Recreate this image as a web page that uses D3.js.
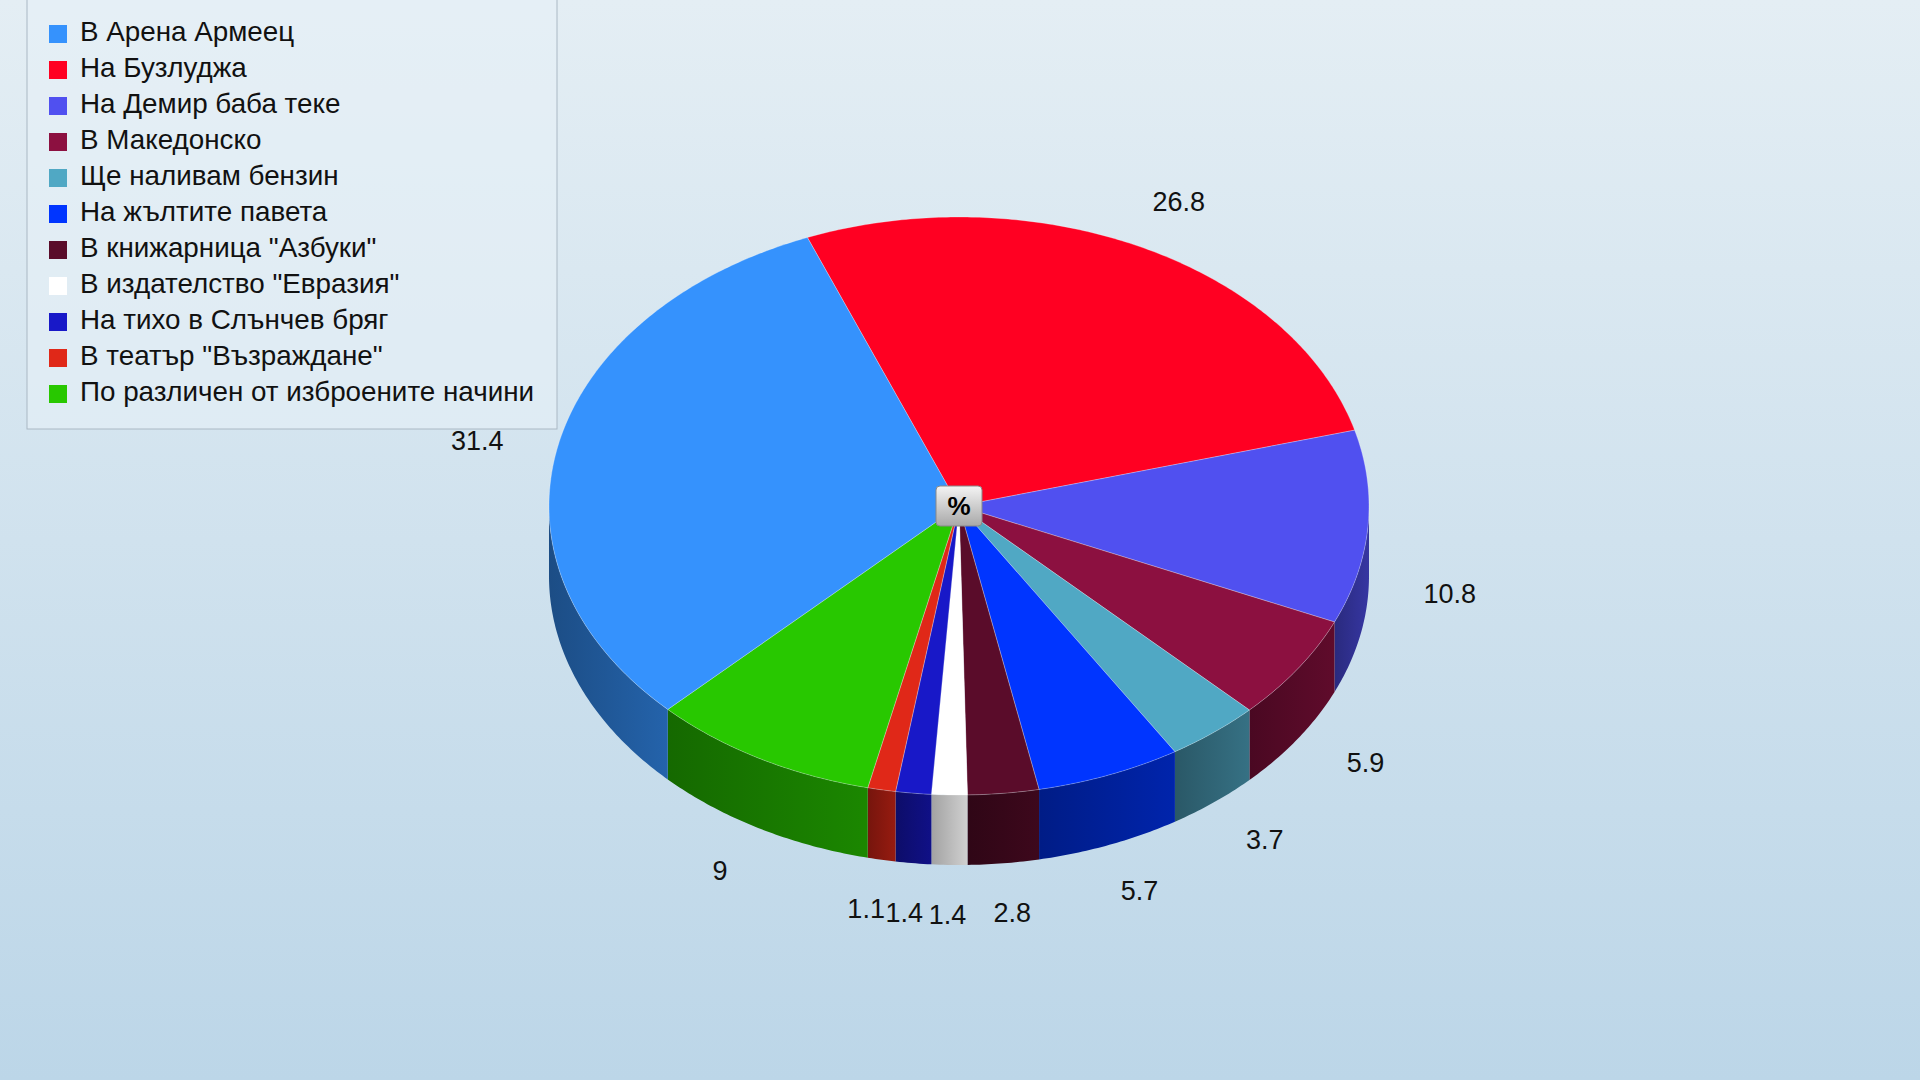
<!DOCTYPE html>
<html><head><meta charset="utf-8">
<script src="https://cdn.jsdelivr.net/npm/d3@7"></script>
<style>body{margin:0;overflow:hidden}</style>
</head><body>
<div id="chart"></div>
<script>
// данни
const categories = ["В Арена Армеец","На Бузлуджа","На Демир баба теке","В Македонско","Ще наливам бензин","На жълтите павета","В книжарница \"Азбуки\"","В издателство \"Евразия\"","На тихо в Слънчев бряг","В театър \"Възраждане\"","По различен от изброените начини"];
const values = [31.4,26.8,10.8,5.9,3.7,5.7,2.8,1.4,1.4,1.1,9];
const colors = ["#3592fd","#ff0022","#5050f0","#8c1040","#50a8c4","#0035ff","#5a0c2a","#ffffff","#1818c8","#e02818","#28c800"];
// ред по часовниковата стрелка, започвайки от "На Бузлуджа"
const drawOrder = [1,2,3,4,5,6,7,8,9,10,0];

const W = 1920, H = 1080;
const cx = 959, cy = 506, rx = 410, ry = 289, depth = 70;
const startDeg = -21.7;

const svg = d3.select("#chart").append("svg").attr("width", W).attr("height", H);
const defs = svg.append("defs");
const bg = defs.append("linearGradient").attr("id","bg").attr("x1",0).attr("y1",0).attr("x2",0).attr("y2",1);
bg.append("stop").attr("offset",0).attr("stop-color","#e4eef4");
bg.append("stop").attr("offset",1).attr("stop-color","#bcd6e8");
svg.append("rect").attr("width",W).attr("height",H).attr("fill","url(#bg)");

const toRad = d => d * Math.PI / 180;
const px = t => cx + rx * Math.sin(t);
const py = t => cy - ry * Math.cos(t);

const total = d3.sum(values);
const angle = d3.scaleLinear().domain([0, total]).range([toRad(startDeg), toRad(startDeg + 360)]);

let acc = 0;
const slices = drawOrder.map(i => {
  const s = { i, a0: angle(acc), a1: angle(acc + values[i]) };
  acc += values[i];
  return s;
});

function arcPts(a0, a1, dy) {
  const n = Math.max(2, Math.ceil((a1 - a0) / 0.01));
  return d3.range(n + 1).map(k => { const t = a0 + (a1 - a0) * k / n; return [px(t), py(t) + dy]; });
}

// странични стени
const sideG = svg.append("g");
slices.forEach(s => {
  [0, 2 * Math.PI, -2 * Math.PI].forEach(off => {
    const lo = Math.max(s.a0, Math.PI / 2 + off), hi = Math.min(s.a1, 3 * Math.PI / 2 + off);
    if (hi <= lo) return;
    const top = arcPts(lo, hi, 0), bot = arcPts(lo, hi, depth).reverse();
    const c = d3.color(colors[s.i]);
    const gid = "sg" + s.i + "_" + Math.round(off);
    const g = defs.append("linearGradient").attr("id", gid).attr("x1",0).attr("y1",0).attr("x2",1).attr("y2",0);
    const base = s.i === 7 ? d3.color("#d0d0d0") : c.darker(1.1);
    g.append("stop").attr("offset",0).attr("stop-color", base.darker(0.7));
    g.append("stop").attr("offset",1).attr("stop-color", base);
    sideG.append("path").attr("d", d3.line()(top.concat(bot)) + "Z").attr("fill", `url(#${gid})`);
  });
});

// горни сектори
const topG = svg.append("g");
slices.forEach(s => {
  const pts = [[cx, cy]].concat(arcPts(s.a0, s.a1, 0));
  topG.append("path").attr("d", d3.line()(pts) + "Z").attr("fill", colors[s.i])
    .attr("stroke", "rgba(255,255,255,0.35)").attr("stroke-width", 0.8);
});

// етикети
const labG = svg.append("g").attr("font-family","Liberation Sans, Arial, sans-serif").attr("font-size",27).attr("fill","#111");
slices.forEach(s => {
  const t = (s.a0 + s.a1) / 2;
  const k = 1.2;
  const x = cx + rx * k * Math.sin(t);
  let y = cy - ry * k * Math.cos(t) + 8;
  if (Math.cos(t) < 0) y += depth * 0.8;
  labG.append("text").attr("x", x).attr("y", y).attr("text-anchor","middle").attr("dominant-baseline","middle").text(values[s.i]);
});

// централен бутон "%"
const cb = svg.append("g").attr("transform", `translate(${cx},${cy})`);
const bgr = defs.append("linearGradient").attr("id","btn").attr("x1",0).attr("y1",0).attr("x2",0).attr("y2",1);
bgr.append("stop").attr("offset",0).attr("stop-color","#f4f4f4");
bgr.append("stop").attr("offset",1).attr("stop-color","#a8a8a8");
cb.append("rect").attr("x",-23).attr("y",-20).attr("width",46).attr("height",40).attr("rx",4).attr("fill","url(#btn)").attr("stroke","#888");
cb.append("text").attr("y",2).attr("text-anchor","middle").attr("dominant-baseline","middle")
  .attr("font-family","Liberation Sans, Arial, sans-serif").attr("font-weight","bold").attr("font-size",26).text("%");

// легенда
const lg = svg.append("g");
lg.append("rect").attr("x",27).attr("y",-2).attr("width",530).attr("height",431)
  .attr("fill","rgba(230,240,246,0.6)").attr("stroke","#aab8c4");
categories.forEach((c, i) => {
  const y = 34 + i * 36;
  lg.append("rect").attr("x",49).attr("y",y-9).attr("width",18).attr("height",18).attr("fill",colors[i]);
  lg.append("text").attr("x",80).attr("y",y).attr("dominant-baseline","middle")
    .attr("font-family","Liberation Sans, Arial, sans-serif").attr("font-size",27.8).attr("fill","#111").text(c);
});
</script>
</body></html>
